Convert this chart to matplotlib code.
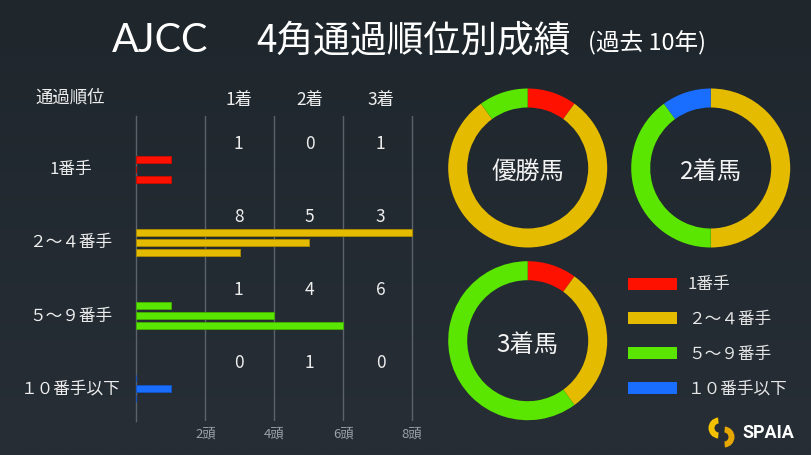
import matplotlib
matplotlib.use("Agg")
import matplotlib.pyplot as plt
import numpy as np
from matplotlib.patches import Rectangle, Wedge

plt.rcParams['font.family'] = ['Noto Sans CJK JP', 'DejaVu Sans']

# ---------------- data ----------------
categories = ["1番手", "２〜４番手", "５〜９番手", "１０番手以下"]
places = ["1着", "2着", "3着"]
# counts per category for each finishing place
counts_1st = [1, 8, 1, 0]
counts_2nd = [0, 5, 4, 1]
counts_3rd = [1, 3, 6, 0]
xticks = [2, 4, 6, 8]
xtick_labels = ["2頭", "4頭", "6頭", "8頭"]
donut_labels = ["優勝馬", "2着馬", "3着馬"]
cat_colors = ["#ff1100", "#e5bb00", "#5ae600", "#1a6eff"]
edge_colors = ["#c40d00", "#a88a00", "#44ad00", "#1453c0"]

W, H = 812, 456
fig = plt.figure(figsize=(W / 100, H / 100), dpi=100)

def fx(x):
    return x / W

def fy(y):
    return 1 - y / H

# ---------------- background ----------------
bg = fig.add_axes([0, 0, 1, 1], zorder=-10)
top = np.array([31, 39, 45]) / 255
bot = np.array([39, 46, 54]) / 255
t = np.linspace(0, 1, 256)[:, None]
grad = (top[None, :] * (1 - t) + bot[None, :] * t)[:, None, :]
bg.imshow(grad, extent=[0, W, H, 0], aspect='auto', interpolation='bilinear')
bg.set_xlim(0, W)
bg.set_ylim(H, 0)
bg.axis('off')

# ---------------- title ----------------
title_kw = dict(color='white', va='baseline')
fig.text(fx(112), fy(52), "AJCC", fontsize=28.5, family=['Lato', 'Noto Sans CJK JP'],
         fontweight='normal', **title_kw)
fig.text(fx(256), fy(51), "4角通過順位別成績", fontsize=26.5, **title_kw)
fig.text(fx(588), fy(50), "(過去 10年)", fontsize=17, **title_kw)

# ---------------- bar chart ----------------
x_left, x8 = 136.5, 412.0
unit = (x8 - x_left) / 8
xmax = 8.05
ax_top, ax_bot = 117, 422
grp0, grp_step = 170, 73
ax = fig.add_axes([fx(x_left), fy(ax_bot), (unit * xmax) / W, (ax_bot - ax_top) / H])
ax.set_facecolor('none')
ax.set_xlim(0, xmax)
ax.set_ylim((ax_bot - grp0) / grp_step, (ax_top - grp0) / grp_step)

series = [counts_1st, counts_2nd, counts_3rd]
bar_off = 10 / grp_step
bar_h = 7 / grp_step
col_x = [2.97, 5.03, 7.09]
for i in range(len(categories)):
    for j, s in enumerate(series):
        ax.barh(i + (j - 1) * bar_off, s[i], height=bar_h, color=cat_colors[i],
                edgecolor=edge_colors[i], linewidth=0.7, zorder=3)
        ax.text(col_x[j], i - 0.36, str(s[i]), ha='center', va='center',
                color='#eeeeee', fontsize=12.5)
for j, p in enumerate(places):
    ax.text(col_x[j], -0.955, p, ha='center', va='center', color='#eeeeee',
            fontsize=12.5, clip_on=False)

ax.set_xticks(xticks)
ax.set_xticklabels(xtick_labels)
ax.set_yticks([])
ax.grid(axis='x', color='#5b6269', linewidth=1, zorder=1)
ax.tick_params(axis='x', length=0, labelcolor='#9ea3a8', labelsize=9.5, pad=4)
for sp in ['top', 'right', 'bottom']:
    ax.spines[sp].set_visible(False)
ax.spines['left'].set_color('#5b6269')
ax.spines['left'].set_linewidth(1)

for i, c in enumerate(categories):
    fig.text(fx(71), fy(grp0 + grp_step * i), c, ha='center', va='center',
             color='#eeeeee', fontsize=12)
fig.text(fx(70), fy(98), "通過順位", ha='center', va='center', color='#eeeeee', fontsize=12.5)

# ---------------- donuts ----------------
R = 79.5
ring = 19
half = 86

def donut(cx, cy, vals, label):
    dax = fig.add_axes([fx(cx - half), fy(cy + half), 2 * half / W, 2 * half / H])
    lim = half / R
    nz = [(v, c) for v, c in zip(vals, cat_colors) if v > 0]
    dax.pie([v for v, _ in nz], colors=[c for _, c in nz], startangle=90,
            counterclock=False, radius=1,
            wedgeprops=dict(width=ring / R, linewidth=0))
    dax.set_xlim(-lim, lim)
    dax.set_ylim(-lim, lim)
    dax.set_aspect('equal')
    dax.axis('off')
    dax.text(0, -0.04, label, ha='center', va='center', color='#f2f2f2', fontsize=17.5)

donut(527.7, 169, counts_1st, donut_labels[0])
donut(710.7, 169, counts_2nd, donut_labels[1])
donut(527.7, 341.7, counts_3rd, donut_labels[2])

# ---------------- legend ----------------
leg_y0, leg_step = 284.5, 34.8
for i, c in enumerate(categories):
    yc = leg_y0 + leg_step * i
    bg.add_patch(Rectangle((627.7, yc - 6), 49, 12, facecolor=cat_colors[i],
                           edgecolor='none'))
    bg.text(688, yc, c, ha='left', va='center', color='#e6e6e6', fontsize=12)

# ---------------- logo ----------------
bg.add_patch(Wedge((719, 429), 10.5, 95, 265, width=6, facecolor='#f2c200', edgecolor='none'))
bg.add_patch(Wedge((724, 438), 10.5, -85, 85, width=6, facecolor='#e6a800', edgecolor='none'))
bg.text(742, 433.5, "SPAIA", ha='left', va='center', color='white', fontsize=13,
        fontweight='bold', family=['Roboto', 'DejaVu Sans'])

fig.savefig("out.png", dpi=100, facecolor=fig.get_facecolor())
